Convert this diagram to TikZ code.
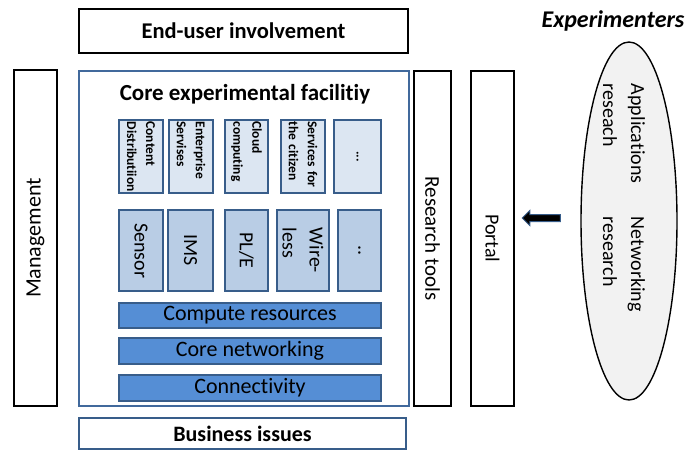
\documentclass[tikz,border=0pt]{standalone}
\usepackage{fontspec}
\setmainfont[Ligatures={NoCommon,NoContextual}]{Carlito}
\usetikzlibrary{shapes.geometric, shapes.arrows, positioning}
\definecolor{frameblue}{HTML}{41699C}
\definecolor{edgeblue}{HTML}{385D8A}
\definecolor{paleblue}{HTML}{DCE6F2}
\definecolor{midblue}{HTML}{B9CDE5}
\definecolor{barblue}{HTML}{558ED5}
\definecolor{cloudgrey}{HTML}{F2F2F2}

\begin{document}
\begin{tikzpicture}[x=1pt, y=-1pt, line width=1.8pt,
                    frame/.style = {draw, rectangle, inner sep=0pt, font=\fontsize{22}{24}\selectfont},
                    svc/.style = {draw=edgeblue, fill=paleblue, rectangle, rotate=-90, minimum width=73pt,
                                  minimum height=44pt, inner xsep=1.5pt, inner ysep=0pt, text width=70pt,
                                  align=left, font=\bfseries\fontsize{13.5}{19}\selectfont},
                    tech/.style = {draw=edgeblue, fill=midblue, rectangle, rotate=-90, minimum width=81pt,
                                   minimum height=44pt, inner sep=0pt, align=left,
                                   font=\fontsize{20}{27}\selectfont},
                    layer/.style = {draw=edgeblue, fill=barblue, rectangle, minimum width=262pt,
                                    minimum height=25pt, inner sep=0pt, font=\fontsize{22}{24}\selectfont},
                    research/.style = {rotate=-90, anchor=west, align=left, inner sep=0pt,
                                       font=\fontsize{20}{28}\selectfont}]
    \useasboundingbox (0,0) rectangle (693,451);

    \node[frame, font=\bfseries\fontsize{22.5}{24}\selectfont, minimum width=329pt, minimum height=44pt]
        (eui) at (243.5,31) {End-user involvement};
    \node[frame, rotate=90, minimum width=336pt, minimum height=43pt] (mgmt) at (35.5,238) {Management};
    \node[frame, draw=frameblue, minimum width=330pt, minimum height=335pt] (core) at (244,238.5) {};
    \node[frame, rotate=-90, minimum width=335pt, minimum height=37pt, font=\fontsize{21}{24}\selectfont]
        (rtools) at (432.5,238.5) {Research tools};
    \node[frame, rotate=-90, minimum width=335pt, minimum height=43pt, font=\fontsize{20}{24}\selectfont]
        (portal) at (492.5,238.5) {Portal};
    \node[frame, draw=edgeblue, font=\bfseries\fontsize{22}{24}\selectfont, minimum width=327pt,
          minimum height=31pt] (bizz) at (242.5,433.5) {Business issues};

    \node[font=\bfseries\fontsize{23}{24}\selectfont] (coretitle) at (245,94) {Core experimental facilitiy};

    % services
    \node[svc] (cdn) at (141,156.5) {Content\\Distributiion};
    \node[svc] (ent) at (191,156.5) {Enterprise\\Servises};
    \node[svc, minimum height=43pt] (cloud) at (246.5,156.5) {Cloud\\computing};
    \node[svc] (citz) at (303,156.5) {Services for\\the citizen};
    \node[svc, minimum height=47pt, align=center] (svcmore) at (357.5,156.5) {...};

    % technologies
    \node[tech] (sens) at (141,250.5) {Sensor};
    \node[tech, minimum height=45pt] (ims) at (190.5,250.5) {IMS};
    \node[tech, minimum height=43pt] (ple) at (246.5,250.5) {PL/E};
    \node[tech, minimum height=52pt] (wless) at (303,250.5) {Wire-\\less};
    \node[tech, minimum height=43pt] (techmore) at (359.5,250.5) {..};

    % layers
    \node[layer] (comp) at (250,315.5) {Compute resources};
    \node[layer, minimum height=26pt] (cnet) at (250,351) {Core networking};
    \node[layer, minimum height=26pt] (conn) at (250,388) {Connectivity};

    % experimenters
    \node[draw, ellipse, fill=cloudgrey, line width=1.4pt, minimum width=96pt, minimum height=358pt]
        (exps) at (629,221) {};
    \node[research] (apps) at (624,83) {Applications\\reseach};
    \node[research] (netw) at (624,216) {Networking\\research};
    \node[font=\bfseries\itshape\fontsize{24}{26}\selectfont] (explabel) at (613,21) {Experimenters};

    \node[single arrow, draw=edgeblue, fill=black, line width=1pt, shape border rotate=180,
          minimum height=38pt, minimum width=14pt, single arrow head extend=4pt, inner sep=3pt]
        (toportal) at (543,218) {};
\end{tikzpicture}
\end{document}
